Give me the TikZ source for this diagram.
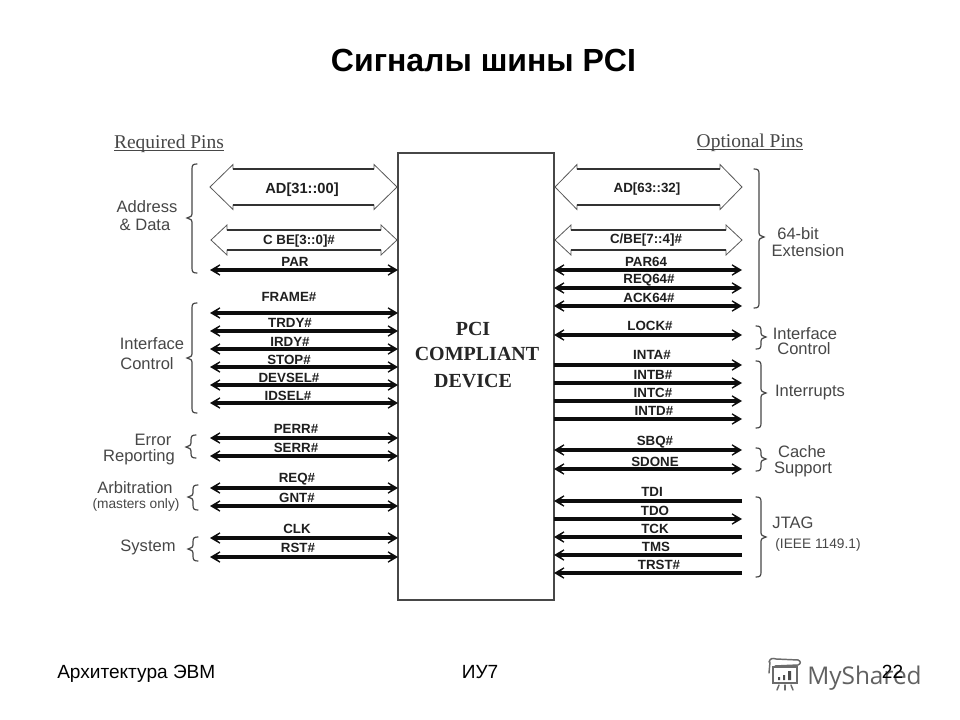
\documentclass[tikz,border=0pt]{standalone}
\usepackage{fontspec}
\setmainfont{Liberation Sans}
\newfontfamily\serifface{Liberation Serif}
\newfontfamily\logoface{Open Sans}
\usetikzlibrary{arrows.meta,calc}
\newcommand{\pxfont}[1]{\fontsize{#1}{#1}\selectfont}
\tikzset{
  tiphead/.tip={Stealth[length=12pt,width=14pt,inset=8.7pt]},
  sigbi/.style={line width=2.4pt,draw=black!95,tiphead-tiphead},
  sigout/.style={line width=2.4pt,draw=black!95,-tiphead},
  sigin/.style={line width=2.4pt,draw=black!95,-tiphead},
  siglabel/.style={font=\bfseries\pxfont{10pt},text=black!88,inner sep=0pt},
  sidelabel/.style={font=\pxfont{12.4pt},text=black!72,inner sep=0pt},
  smallside/.style={font=\pxfont{10.3pt},text=black!72,inner sep=0pt},
  heading/.style={font=\serifface\pxfont{14.6pt},text=black!72,inner sep=0pt},
  chiptext/.style={font=\serifface\bfseries\pxfont{15pt},text=black!85,inner sep=0pt},
  footer/.style={font=\pxfont{14.3pt},text=black,inner sep=0pt},
  chipbox/.style={draw=black!72,line width=1.1pt,outer sep=0pt,inner sep=0pt,minimum width=117pt,minimum height=335.25pt},
  bracket/.style={draw=black!72,line width=0.9pt,line cap=round},
  blockout/.style={draw=black!65,line width=0.6pt,fill=white,line join=miter},
  blockshaft/.style={draw=black!80,line width=1.1pt},
  logoink/.style={draw=black!58,line width=1.1pt,line cap=round},
}
% #1 spine x, #2 direction (+1: hooks to the right, tip to the left), #3 top, #4 tip y, #5 bottom
\newcommand{\curlyb}[5]{%
  \draw[bracket] ({#1+5*#2},#3) .. controls ({#1+1*#2},#3) and (#1,{#3+1}) .. (#1,{#3+5})
    -- (#1,{#4-4}) .. controls (#1,{#4-2}) .. ({#1-5*#2},#4)
    .. controls (#1,{#4+2}) .. (#1,{#4+4})
    -- (#1,{#5-5}) .. controls (#1,{#5-1}) and ({#1+1*#2},#5) .. ({#1+5*#2},#5);}
% #1 left tip, #2 right tip, #3 y, #4 head half height, #5 shaft half height, #6 head length
\newcommand{\blockarrow}[6]{%
  \draw[blockout] (#1,#3) -- ({#1+#6},{#3-#4}) -- ({#1+#6},{#3-#5}) -- ({#2-#6},{#3-#5})
    -- ({#2-#6},{#3-#4}) -- (#2,#3) -- ({#2-#6},{#3+#4}) -- ({#2-#6},{#3+#5})
    -- ({#1+#6},{#3+#5}) -- ({#1+#6},{#3+#4}) -- cycle;
  \draw[blockshaft] ({#1+#6},{#3-#5}) -- ({#2-#6},{#3-#5});
  \draw[blockshaft] ({#1+#6},{#3+#5}) -- ({#2-#6},{#3+#5});}
\begin{document}
\begin{tikzpicture}[x=0.75pt,y=-0.75pt]
\useasboundingbox (0,0) rectangle (960,720);
\fill[white] (0,0) rectangle (960,720);
% title
\node[font=\bfseries\pxfont{24pt},inner sep=0pt,text=black] (title) at (483.5,60) {Сигналы шины PCI};
% watermark logo
\draw[logoink] (773,667) rectangle (797,683);
\draw[logoink] (769,662) .. controls (770,658) and (773,658) .. (776,659) -- (798,660);
\draw[logoink] (798,660) .. controls (801,661) and (801,664) .. (798,665) -- (775,666);
\draw[logoink] (770,662) -- (769,673);
\draw[logoink] (779,685) -- (777,690);
\draw[logoink] (785,685) -- (785,690);
\draw[logoink] (791,685) -- (793,690);
\fill[black!70] (778,677) rectangle (780,680) (783,675) rectangle (785,680) (788,671) rectangle (791,680);
\node[font=\logoface\pxfont{18.3pt},text=black!62,inner sep=0pt,anchor=base west] (logo) at (807,684) {MyShared};
% device
\node[chipbox] (chip) at (476,376.5) {};
\node[chiptext] (t1) at (473,329) {PCI};
\node[chiptext] (t2) at (477,354) {COMPLIANT};
\node[chiptext] (t3) at (473,381) {DEVICE};
% headings
\node[heading] (req) at (169,150) {\underline{\smash{Required Pins}}};
\node[heading] (opt) at (750,149) {\underline{\smash{Optional Pins}}};
% block arrows
\blockarrow{210}{397}{187}{22.5}{18}{23}
\blockarrow{211}{397}{240}{15}{10}{16}
\blockarrow{555}{742}{187}{22.5}{18}{22}
\blockarrow{555}{742}{240}{15}{10}{16}
\node[siglabel,font=\bfseries\pxfont{11pt}] (ad0) at (302,190) {AD[31::00]};
\node[siglabel] (cb0) at (299,241) {C BE[3::0]\#};
\node[siglabel] (ad1) at (647,189) {AD[63::32]};
\node[siglabel] (cb1) at (646,240) {C/BE[7::4]\#};
% left signals
\foreach \n/\y/\lx/\ly/\t in {
  a/270/295/262/PAR, b/313/289/297/FRAME\#, c/331/290/323/TRDY\#, d/349/290/342/IRDY\#,
  e/367/289/360/STOP\#, f/385/289/378/DEVSEL\#, g/403/288/396/IDSEL\#,
  h/438/296/429/PERR\#, i/456/296/448/SERR\#, j/488/297/479/REQ\#, k/506/297/498/GNT\#,
  l/538/297/529/CLK, m/557/298/548/RST\#}{
  \coordinate (L\n) at (210,\y);
  \draw[sigbi] (L\n) -- (L\n -| chip.west);
  \node[siglabel] (LT\n) at (\lx,\ly) {\t};
}
% right bidirectional
\foreach \n/\y/\lx/\ly/\t in {
  a/270/646/262/PAR64, b/288/649/280/REQ64\#, c/306/649/298/ACK64\#, d/335/650/326/LOCK\#,
  e/450/655/442/SBQ\#, f/469/655/462/SDONE}{
  \coordinate (R\n) at (742,\y);
  \draw[sigbi] (R\n) -- (R\n -| chip.east);
  \node[siglabel] (RT\n) at (\lx,\ly) {\t};
}
% right outputs
\foreach \n/\y/\lx/\ly/\t in {
  g/365/652/355/INTA\#, h/383/653/375/INTB\#, i/401/653/393/INTC\#, j/419/654/411/INTD\#,
  l/519/655/511/TDO}{
  \coordinate (R\n) at (742,\y);
  \draw[sigout] (R\n -| chip.east) -- (R\n);
  \node[siglabel] (RT\n) at (\lx,\ly) {\t};
}
% right inputs
\foreach \n/\y/\lx/\ly/\t in {
  k/501/652/492/TDI, m/537/655/529/TCK, n/555/656/547/TMS, o/573/659/565/TRST\#}{
  \coordinate (R\n) at (742,\y);
  \draw[sigin] (R\n) -- (R\n -| chip.east);
  \node[siglabel] (RT\n) at (\lx,\ly) {\t};
}
% braces
\curlyb{192}{1}{164}{218}{273}
\curlyb{192}{1}{303}{358}{413}
\curlyb{191}{1}{435}{447}{458}
\curlyb{193}{1}{485}{497}{510}
\curlyb{193}{1}{537}{549}{561}
\curlyb{759}{-1}{169}{237}{308}
\curlyb{761}{-1}{326}{337}{349}
\curlyb{761}{-1}{361}{393}{428}
\curlyb{761}{-1}{448}{459}{471}
\curlyb{761}{-1}{497}{537}{577}
% side labels
\node[sidelabel] (s1) at (147,207) {Address};
\node[sidelabel] (s2) at (145,225) {\& Data};
\node[sidelabel] (s3) at (152,344) {Interface};
\node[sidelabel] (s4) at (147,364) {Control};
\node[sidelabel] (s5) at (153,440) {Error};
\node[sidelabel] (s6) at (139,457) {Reporting};
\node[sidelabel] (s7) at (135,488) {Arbitration};
\node[smallside] (s8) at (136,505) {(masters only)};
\node[sidelabel] (s9) at (148,547) {System};
\node[sidelabel] (r1) at (798,234) {64-bit};
\node[sidelabel] (r2) at (808,251) {Extension};
\node[sidelabel] (r3) at (805,334) {Interface};
\node[sidelabel] (r4) at (804,349) {Control};
\node[sidelabel] (r5) at (810,393) {Interrupts};
\node[sidelabel] (r6) at (802,452) {Cache};
\node[sidelabel] (r7) at (803,469) {Support};
\node[sidelabel] (r8) at (793,523) {JTAG};
\node[smallside] (r9) at (818,545) {(IEEE 1149.1)};
% footer
\node[footer,anchor=base west] (f1) at (57,678) {Архитектура ЭВМ};
\node[footer,anchor=base] (f2) at (480,678) {ИУ7};
\node[footer,anchor=base] (f3) at (892.5,678) {22};
\end{tikzpicture}
\end{document}
